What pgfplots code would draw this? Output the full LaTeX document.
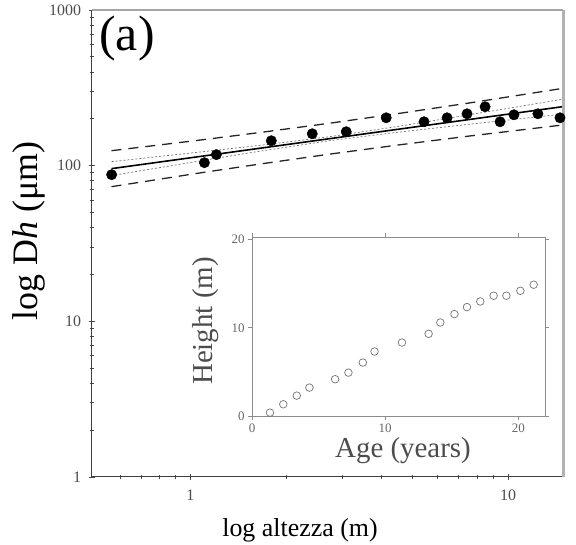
\documentclass[border=0pt]{standalone}
\usepackage{fontspec}
\setmainfont{Liberation Serif}
\usepackage{pgfplots}
\pgfplotsset{compat=1.18}
\begin{document}
\begin{tikzpicture}
\path[use as bounding box] (0,0) rectangle (576bp,545bp);
\begin{axis}[
  at={(92bp,68bp)}, anchor=south west,
  width=471bp, height=467bp, scale only axis,
  xmode=log, ymode=log,
  xmin=0.49, xmax=14.9, ymin=1, ymax=1000,
  axis lines=left, axis line style={-, black!75, line width=1bp},
  xtick={1,10}, xticklabels={1,10},
  ytick={1,10,100,1000}, yticklabels={1,10,100,1000},
  minor xtick={0.6,0.7,0.8,0.9,2,3,4,5,6,7,8,9},
  minor ytick={2,3,4,5,6,7,8,9,20,30,40,50,60,70,80,90,200,300,400,500,600,700,800,900},
  tick align=center, major tick length=7bp, minor tick length=5bp,
  tick style={black!70, line width=0.8bp},
  /pgf/number format/assume math mode=true,
  ticklabel style={font=\fontsize{16}{16}\selectfont, text=black!70},
  xticklabel style={yshift=-6bp},
  yticklabel style={xshift=-4bp},
  clip=false,
]
\draw[black!30, line width=3bp] (rel axis cs:1,0) -- (rel axis cs:1,1);
\draw[black!35, line width=1.2bp] (rel axis cs:0,1) -- (rel axis cs:1,1);
% prediction band (dashed)
\addplot[black!85, line width=1.3bp, dash pattern=on 10bp off 7bp] coordinates {
 (0.5645,124.8) (1.067,145.8) (1.648,163.1) (2.736,187.2) (4.542,216.6) (7.54,252.6) (14.79,313.2)};
\addplot[black!85, line width=1.3bp, dash pattern=on 10bp off 7bp] coordinates {
 (0.5645,73.3) (1.067,89.7) (1.648,102.3) (2.736,118.5) (4.542,136.0) (7.54,154.9) (14.79,182.3)};
% confidence band (dotted)
\addplot[black!55, line width=0.7bp, dash pattern=on 2bp off 2bp] coordinates {
 (0.5645,106.1) (1.067,122.2) (1.648,134.9) (2.736,153.3) (4.542,179.2) (7.54,212.2) (14.79,266.6)};
\addplot[black!55, line width=0.7bp, dash pattern=on 2bp off 2bp] coordinates {
 (0.5645,86.3) (1.067,107.1) (1.648,123.7) (2.736,144.6) (4.542,164.3) (7.54,184.5) (14.79,214.1)};
% fit
\addplot[black, line width=1.6bp] coordinates {(0.5645,95.7) (14.79,239)};
% data
\addplot[only marks, mark=*, mark size=5.2bp, black] coordinates {
 (0.565,87.5) (1.107,104.5) (1.207,117.7) (1.798,144.6) (2.419,160.3) (3.095,165.2)
 (4.135,203) (5.44,191.5) (6.43,203) (7.43,215.4) (8.47,239) (9.44,191.5)
 (10.44,212.3) (12.42,215.4) (14.58,203)};
\end{axis}
\begin{axis}[
  at={(252bp,129bp)}, anchor=south west,
  width=293bp, height=179bp, scale only axis,
  xmin=0, xmax=22, ymin=0, ymax=20.3,
  xtick={0,10,20}, ytick={0,10,20},
  axis line style={black!45, line width=0.8bp},
  tick style={black!45, line width=0.8bp},
  tick align=outside, major tick length=4bp,
  /pgf/number format/assume math mode=true,
  ticklabel style={font=\fontsize{13}{13}\selectfont, text=black!60},
  axis background/.style={fill=white},
  clip=false,
]
\addplot[only marks, mark=o, mark size=3.8bp, black!55, line width=0.7bp] coordinates {
 (1.35,0.38) (2.35,1.33) (3.36,2.31) (4.31,3.22) (6.24,4.17) (7.24,4.92)
 (8.32,6.06) (9.20,7.31) (11.26,8.33) (13.26,9.32) (14.14,10.6) (15.20,11.56)
 (16.14,12.35) (17.14,12.99) (18.14,13.64) (19.10,13.64) (20.15,14.2) (21.15,14.89)};
\end{axis}
\node[font=\fontsize{26}{26}\selectfont] at (300bp,15bp) {log altezza (m)};
\node[rotate=90, font=\fontsize{36}{36}\selectfont] at (29bp,314bp) {log D\textit{h} (μm)};
\node[font=\fontsize{50}{50}\selectfont] at (127bp,506bp) {(a)};
\node[rotate=90, font=\fontsize{29}{29}\selectfont, text=black!70] at (206bp,224bp) {Height (m)};
\node[font=\fontsize{29}{29}\selectfont, text=black!70] at (403bp,94bp) {Age (years)};
\end{tikzpicture}
\end{document}
